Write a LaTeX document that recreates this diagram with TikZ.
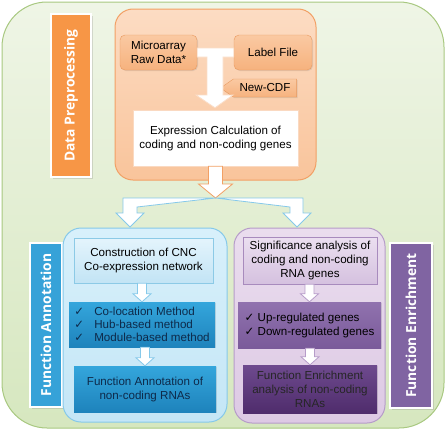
\documentclass[tikz,border=0pt]{standalone}
\usepackage{fontspec}
\setmainfont{Liberation Sans}
\newfontfamily\labelfont{Open Sans}
\newfontfamily\symfont{DejaVu Sans}
\usepackage{tikz}
\usetikzlibrary{calc, positioning, shapes.symbols, shadows}

\definecolor{outerA}{HTML}{EFF5E6}
\definecolor{outerB}{HTML}{D6E7BF}
\definecolor{outerLine}{HTML}{A8C880}
\definecolor{orangeLbl}{HTML}{F79646}
\definecolor{orpanA}{HTML}{FCDCC3}
\definecolor{orpanB}{HTML}{F9C49B}
\definecolor{orpanLine}{HTML}{F2A065}
\definecolor{orboxA}{HTML}{FAC9A2}
\definecolor{orboxB}{HTML}{F6B27E}
\definecolor{orboxLine}{HTML}{E99A5F}
\definecolor{blueLbl}{HTML}{36A2D8}
\definecolor{bluepanA}{HTML}{D8F0FB}
\definecolor{bluepanB}{HTML}{C4E6F6}
\definecolor{bluepanLine}{HTML}{86C9EA}
\definecolor{consA}{HTML}{E4F4FC}
\definecolor{consB}{HTML}{C2E4F5}
\definecolor{consLine}{HTML}{8CCAE6}
\definecolor{methA}{HTML}{34A6DC}
\definecolor{methB}{HTML}{1E83BC}
\definecolor{methText}{HTML}{0E2A4A}
\definecolor{purLbl}{HTML}{8064A2}
\definecolor{purpanA}{HTML}{EADDEE}
\definecolor{purpanB}{HTML}{DDC9E4}
\definecolor{purpanLine}{HTML}{B69CC9}
\definecolor{sigA}{HTML}{EBDFF0}
\definecolor{sigB}{HTML}{D5C1DF}
\definecolor{sigLine}{HTML}{A88BBD}
\definecolor{upA}{HTML}{9072AE}
\definecolor{upB}{HTML}{7A5A9A}
\definecolor{fenA}{HTML}{6E4A8E}
\definecolor{fenB}{HTML}{4F2C6C}

\newcommand{\boxfont}{\fontsize{11.6}{14}\selectfont}
\newcommand{\chk}[1]{\makebox[#1][l]{\symfont\char"2713}}

% block arrow pointing down: style, top, tip, shaft half width, head half width, head length
\newcommand{\downblock}[6][]{%
  \draw[#1] let \p1=(#2), \p2=(#3) in
    (\x2-#4,\y1) -- (\x2-#4,\y2+#6) -- (\x2-#5,\y2+#6) -- (\x2,\y2)
    -- (\x2+#5,\y2+#6) -- (\x2+#4,\y2+#6) -- (\x2+#4,\y1) -- cycle;}

\begin{document}
\begin{tikzpicture}[x=1pt, y=-1pt,
    outer/.style={rectangle, rounded corners=45pt, draw=outerLine, line width=1pt,
        top color=outerA, bottom color=outerB, inner sep=0pt},
    panel/.style={rectangle, rounded corners=18pt, line width=1pt, inner sep=0pt},
    sidelabel/.style={rectangle, rotate=90, draw=white, line width=1.5pt, text=white,
        font=\labelfont\bfseries\fontsize{13.8}{16}\selectfont, inner sep=0pt,
        drop shadow={opacity=0.25, shadow xshift=1.5pt, shadow yshift=-1.5pt}},
    box/.style={rectangle, align=center, font=\boxfont, inner sep=0pt,
        drop shadow={opacity=0.2, shadow xshift=1pt, shadow yshift=-1pt}},
    obox/.style={box, rounded corners=5pt, draw=orboxLine, top color=orboxA, bottom color=orboxB},
    barrow/.style={fill=white, draw=#1, line width=0.8pt, line join=miter}]

    \useasboundingbox (0,0) rectangle (446,431);
    \node[outer, minimum width=442pt, minimum height=426pt] (frame) at (223,215) {};

    % data preprocessing
    \node[sidelabel, fill=orangeLbl, minimum width=163pt, minimum height=40pt] (dplbl) at (71,95.5) {Data Preprocessing};
    \node[panel, draw=orpanLine, top color=orpanA, bottom color=orpanB,
        minimum width=201pt, minimum height=171pt] (orpanel) at (215.5,94.5) {};
    \node[obox, minimum width=77pt, minimum height=35pt] (mic) at (158.5,52.5) {Microarray\\Raw Data*};
    \node[obox, minimum width=78pt, minimum height=35pt] (lbl) at (273,52.5) {Label File};
    \node[box, signal, signal to=west, signal pointer angle=70, draw=orboxLine,
        top color=orboxA, bottom color=orboxB, minimum width=76pt, minimum height=18pt] (cdf) at (265,88) {New-CDF};
    \node[box, fill=white, draw=orpanLine!40, minimum width=165pt, minimum height=56pt] (expr) at (215.5,138)
        {Expression Calculation of\\coding and non-coding genes};

    \coordinate (tee) at (215,57);
    \draw[barrow=orpanLine!35] ($(mic.east)+(0,-4.5)$) -- ($(lbl.west)+(0,-4.5)$) -- ($(lbl.west)+(0,4.5)$)
        -- ($(tee)+(8,0)$) -- ++(0,38) -- ++(10,0) -- ($(expr.north)+(-0.5,-2)$)
        -- ($(tee)+(-19,38)$) -- ++(11,0) -- ($(tee)+(-8,0)$) -- ($(mic.east)+(0,4.5)$) -- cycle;

    \coordinate (fork) at (215.5,198);
    \downblock[barrow=orpanLine]{expr.south}{fork}{7pt}{17pt}{14pt}

    % function annotation
    \node[sidelabel, fill=blueLbl, minimum width=164pt, minimum height=32pt] (falbl) at (46,325) {Function Annotation};
    \node[panel, draw=bluepanLine, top color=bluepanA, bottom color=bluepanB,
        minimum width=164pt, minimum height=194pt] (bluepanel) at (145,325) {};
    \node[box, draw=consLine, top color=consA, bottom color=consB,
        minimum width=139pt, minimum height=45pt] (cons) at (143.5,260.5) {Construction of CNC\\Co-expression network};
    \node[box, align=left, text=methText, top color=methA, bottom color=methB,
        minimum width=146pt, minimum height=45pt, font=\fontsize{11.6}{13}\selectfont] (meth) at (142,324.5)
        {\chk{20pt}Co-location Method\\\chk{20pt}Hub-based method\\\chk{20pt}Module-based method};
    \node[box, text=methText, top color=methA, bottom color=methB,
        minimum width=142pt, minimum height=46pt] (fann) at (145,389) {Function Annotation of\\non-coding RNAs};
    \downblock[barrow=bluepanLine]{cons.south}{meth.north}{4.5pt}{9pt}{8pt}
    \downblock[barrow=bluepanLine]{meth.south}{fann.north}{4.5pt}{9pt}{8pt}

    % function enrichment
    \node[sidelabel, fill=purLbl, minimum width=165pt, minimum height=42pt] (felbl) at (411,325.5) {Function Enrichment};
    \node[panel, draw=purpanLine, top color=purpanA, bottom color=purpanB,
        minimum width=151pt, minimum height=195pt] (purpanel) at (309.5,325.5) {};
    \node[box, draw=sigLine, top color=sigA, bottom color=sigB,
        minimum width=134pt, minimum height=47pt] (sig) at (310,260.5) {Significance analysis of\\coding and non-coding\\RNA genes};
    \node[box, align=left, top color=upA, bottom color=upB,
        minimum width=143pt, minimum height=46pt] (upr) at (309.5,325)
        {\chk{13pt}Up-regulated genes\\\chk{13pt}Down-regulated genes};
    \node[box, text=black!85, top color=fenA, bottom color=fenB,
        minimum width=134pt, minimum height=48pt] (fenr) at (310,389) {Function Enrichment\\analysis of non-coding\\RNAs};
    \downblock[barrow=purpanLine]{sig.south}{upr.north}{4.5pt}{9pt}{8pt}
    \downblock[barrow=purpanLine]{upr.south}{fenr.north}{4.5pt}{9pt}{8pt}

    % split towards both branches
    \draw[barrow=bluepanLine] (fork) -- ++(-92.5,0) -- ++(0,15) -- ++(-7,0) -- ++(14,14)
        -- ++(14,-14) -- ++(-7,0) -- ++(0,-6) -- cycle;
    \draw[barrow=bluepanLine] (fork) -- ++(87.5,0) -- ++(0,15) -- ++(8,0) -- ++(-14,14)
        -- ++(-14,-14) -- ++(7,0) -- ++(0,-6) -- cycle;
\end{tikzpicture}
\end{document}
